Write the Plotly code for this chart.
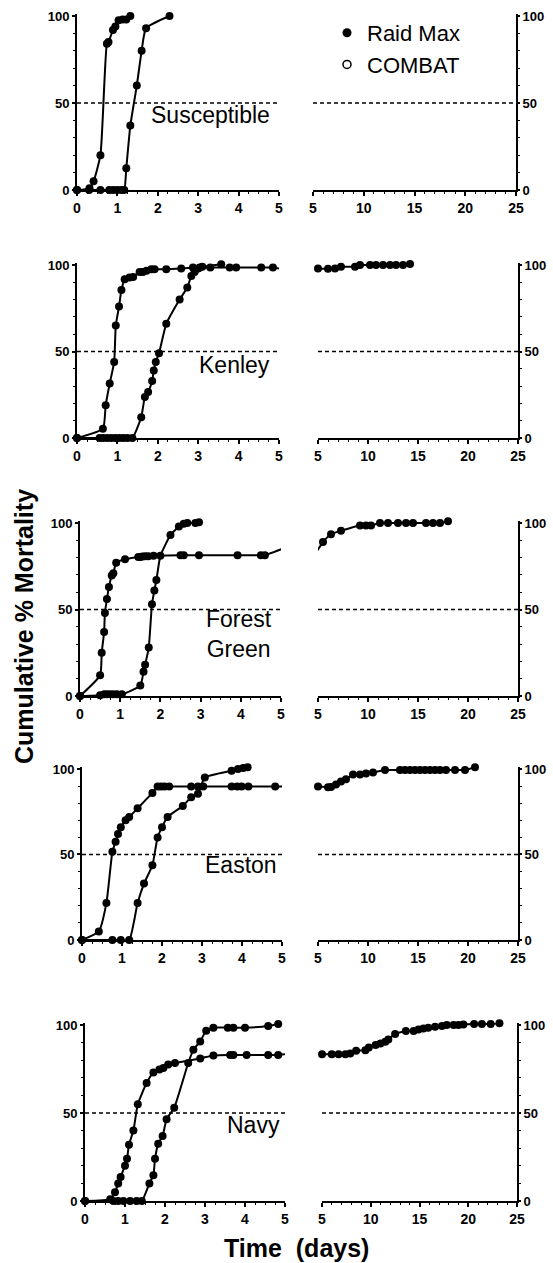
import plotly.graph_objects as go
import numpy as np

W, H = 553, 1263
FW, FH = W, H

# ---------------- data ----------------
strains = ["Susceptible", "Kenley", "Forest Green", "Easton", "Navy"]
strain_labels = ["Susceptible", "Kenley", "Forest<br>Green", "Easton", "Navy"]

susc_raid_x = [0, 0.31, 0.41, 0.58, 0.74, 0.78, 0.89, 0.95, 1.03, 1.13, 1.22, 1.32]
susc_raid_y = [0, 1, 5, 20, 84, 85, 92, 94, 97.5, 98, 98, 100]
susc_combat_x = [0, 0.3, 0.58, 0.8, 0.9, 1.0, 1.1, 1.17, 1.22, 1.32, 1.48, 1.6, 1.71, 2.29]
susc_combat_y = [0, 0, 0, 0, 0, 0, 0, 0, 12.5, 37, 60, 80, 93, 100]
susc_raid_late_x = []
susc_raid_late_y = []

kenl_raid_x = [0, 0.64, 0.71, 0.81, 0.92, 0.96, 1.04, 1.1, 1.18, 1.3, 1.39, 1.55, 1.63, 1.72,
               1.84, 1.92, 2.21, 2.58, 2.87, 3.04, 3.3, 3.78, 3.94, 4.56, 4.85]
kenl_raid_y = [0, 5.4, 19, 31.5, 44, 65, 76, 85.5, 91.7, 92.7, 93, 96, 96, 96.7,
               97.5, 97.5, 97.5, 98, 98.5, 98.5, 98.5, 98.5, 98.5, 98.5, 98.5]
kenl_combat_x = [0, 0.56, 0.65, 0.75, 0.85, 0.95, 1.05, 1.15, 1.25, 1.37, 1.59, 1.68, 1.76,
                 1.86, 1.9, 1.95, 2.03, 2.21, 2.54, 2.73, 2.83, 2.91, 3.0, 3.1, 3.57]
kenl_combat_y = [0, 0, 0, 0, 0, 0, 0, 0, 0, 0, 12, 23.7, 26.6,
                 33, 39, 44, 49, 66, 80, 87, 93.6, 96, 98, 99, 100.5]
kenl_raid_late_x = [5.0, 6.0, 6.7, 7.3, 8.7, 9.2, 10.2, 10.8, 11.5, 12.2, 12.8, 13.5, 14.2]
kenl_raid_late_y = [98, 97.8, 98, 99, 99, 100, 100, 100, 100, 100, 100, 100, 100.6]

forg_raid_x = [0, 0.5, 0.54, 0.6, 0.62, 0.67, 0.72, 0.79, 0.83, 0.9, 1.12, 1.45, 1.5, 1.55,
               1.62, 1.7, 1.83, 2.5, 2.58, 2.96, 3.92, 4.5, 4.6]
forg_raid_y = [0, 12, 25, 37, 48, 56, 63, 69.6, 71, 77, 79, 80.4, 80.4, 80.6,
               80.8, 80.8, 81, 81.4, 81.4, 81.4, 81.4, 81.4, 81.4]
forg_combat_x = [0, 0.5, 0.6, 0.67, 0.75, 0.83, 0.92, 1.04, 1.5, 1.58, 1.62, 1.71, 1.79,
                 1.85, 1.9, 2.0, 2.25, 2.46, 2.58, 2.67, 2.87, 2.96]
forg_combat_y = [0, 0.5, 1, 1, 1, 1, 1, 1, 6, 14, 18, 28, 53,
                 61, 67, 81, 93, 98, 99.5, 100, 100, 100.5]
forg_raid_late_x = [5.5, 6.3, 7.3, 9.2, 9.8, 10.3, 11.2, 12.0, 13.0, 13.8, 14.5, 15.8, 16.5, 17.2, 18.0]
forg_raid_late_y = [89, 93.5, 95.5, 98.6, 98.6, 98.6, 100, 100, 100, 100, 100, 100, 100, 100, 101]

east_raid_x = [0, 0.42, 0.61, 0.76, 0.84, 0.9, 0.97, 1.09, 1.18, 1.39, 1.76, 1.89, 1.97, 2.06,
               2.18, 2.73, 2.9, 3.03, 3.74, 3.88, 3.99, 4.16, 4.83]
east_raid_y = [0, 5, 21.6, 51.6, 57.5, 62, 66, 70, 72, 77, 86, 89.8, 89.8, 89.8,
               89.8, 89.8, 89.8, 89.8, 89.8, 89.8, 89.8, 89.8, 89.8]
east_combat_x = [0, 0.76, 0.97, 1.18, 1.39, 1.55, 1.76, 1.89, 2.0, 2.14, 2.52, 2.73, 2.9,
                 3.07, 3.74, 3.9, 4.03, 4.14]
east_combat_y = [0, 0, 0, 0, 21.6, 33, 43.7, 60, 66, 72, 78.4, 83.5, 85.5,
                 95, 99, 100, 100.6, 101]
east_raid_late_x = [5.0, 6.0, 6.3, 6.8, 7.3, 7.8, 8.5, 9.2, 9.8, 10.5, 11.7, 13.2, 13.7, 14.2,
                    14.7, 15.2, 15.7, 16.2, 16.7, 17.2, 17.8, 18.7, 19.7, 20.7]
east_raid_late_y = [89.7, 89.3, 89.5, 91, 92.7, 94, 96.8, 96.8, 97.4, 98, 99.4, 99.4, 99.4, 99.4,
                    99.4, 99.4, 99.4, 99.4, 99.4, 99.4, 99.4, 99.4, 99.4, 101]

navy_raid_x = [0, 0.63, 0.75, 0.83, 0.89, 1.0, 1.05, 1.1, 1.21, 1.32, 1.54, 1.71, 1.86, 1.96,
               2.08, 2.25, 2.88, 3.21, 3.63, 3.71, 4.04, 4.58, 4.83]
navy_raid_y = [0, 1, 5, 10, 13.7, 20, 24, 32, 40, 55, 67, 73, 74.7, 75.6,
               77.5, 78.4, 81, 82.7, 83, 83, 83, 83, 83]
navy_combat_x = [0, 0.71, 0.83, 0.96, 1.13, 1.29, 1.42, 1.61, 1.71, 1.75, 1.83, 1.94, 2.04,
                 2.23, 2.58, 2.71, 2.88, 3.03, 3.21, 3.57, 3.71, 4.0, 4.58, 4.83]
navy_combat_y = [0, 0, 0, 0, 0, 0, 0, 10, 14.6, 24, 32.5, 37, 46.5,
                 53, 78.4, 86, 90.6, 96.8, 98.5, 98.5, 98.5, 98.5, 99.4, 100.6]
navy_raid_late_x = [5.0, 6.0, 6.7, 7.4, 7.9, 8.5, 9.45, 9.8, 10.5, 11.0, 11.5, 11.8, 12.5, 13.6,
                    14.4, 14.9, 15.4, 15.9, 16.6, 17.3, 17.8, 18.5, 19.0, 19.5, 20.6, 21.4, 22.3, 23.2]
navy_raid_late_y = [83.4, 83.4, 83.4, 83.4, 83.8, 85.3, 85.7, 87.2, 88.6, 89.5, 90.5, 91.8, 94.9, 96.6,
                    96.6, 97.5, 98, 98.5, 99, 99.4, 100, 100, 100, 100.3, 100.6, 100.6, 100.6, 101]

raid_x = [susc_raid_x, kenl_raid_x, forg_raid_x, east_raid_x, navy_raid_x]
raid_y = [susc_raid_y, kenl_raid_y, forg_raid_y, east_raid_y, navy_raid_y]
combat_x = [susc_combat_x, kenl_combat_x, forg_combat_x, east_combat_x, navy_combat_x]
combat_y = [susc_combat_y, kenl_combat_y, forg_combat_y, east_combat_y, navy_combat_y]
late_x = [susc_raid_late_x, kenl_raid_late_x, forg_raid_late_x, east_raid_late_x, navy_raid_late_x]
late_y = [susc_raid_late_y, kenl_raid_late_y, forg_raid_late_y, east_raid_late_y, navy_raid_late_y]

left_ticks = [0, 1, 2, 3, 4, 5]
right_ticks = [5, 10, 15, 20, 25]
y_ticks = [0, 50, 100]
y_top = 101.2
half_line = 50
break_day = 5

# ---------------- layout geometry (screen pixels: y of 100% and 0%) ----------------
LEFT_PX = [(77, 279), (77, 279), (80, 281), (82, 282), (85, 285)]
RIGHT_PX = [(313, 516), (318, 518), (318, 518), (318, 518), (322, 517)]
ROW_PX = [(16, 190), (265, 438), (523, 696), (769, 940), (1025, 1201)]
LABEL_POS = [(3.3, 43), (3.9, 42), (3.95, 36), (3.98, 44), (4.2, 43)]

FONT = "Liberation Sans, Arial, Helvetica, sans-serif"
BLACK = "black"

def px_x(p):
    return p / FW

def px_y(p):
    return 1 - p / FH

def xd(px):
    return [px_x(px[0]), px_x(px[1])]

def yd(py):
    top, bottom = py
    top_ext = top - (bottom - top) * (y_top - 100) / 100
    return [px_y(bottom), px_y(top_ext)]

fig = go.Figure()
layout = dict(width=FW, height=FH, template="none",
              margin=dict(l=0, r=0, t=0, b=0, pad=0, autoexpand=False),
              paper_bgcolor="white", plot_bgcolor="white", showlegend=True,
              font=dict(family=FONT, color=BLACK))
shapes, annotations = [], []

xtickfont = dict(family=FONT, size=14, color=BLACK, weight="bold")
ytickfont = dict(family=FONT, size=13, color=BLACK, weight="bold")

def axname(kind, k):
    return f"{kind}axis" if k == 1 else f"{kind}axis{k}"

def ref(kind, k):
    return kind if k == 1 else f"{kind}{k}"

line_style = dict(color=BLACK, width=2, shape="spline", smoothing=0.5)
marker_style = dict(color=BLACK, size=8, symbol="circle", line=dict(width=0))

common = dict(showline=True, linewidth=2, linecolor=BLACK, showgrid=False, zeroline=False,
              automargin=False, ticks="outside", tickwidth=2, tickcolor=BLACK)

for r in range(5):
    kl, kr = 2 * r + 1, 2 * r + 2
    layout[axname("x", kl)] = dict(domain=xd(LEFT_PX[r]), range=[0, break_day], anchor=ref("y", kl),
                                   tickvals=left_ticks, ticklen=4, tickfont=xtickfont,
                                   minor=dict(dtick=0.25, ticks="outside", ticklen=2, tickwidth=1, tickcolor=BLACK),
                                   **common)
    layout[axname("y", kl)] = dict(domain=yd(ROW_PX[r]), range=[0, y_top], anchor=ref("x", kl),
                                   tickvals=y_ticks, ticklen=3, tickfont=ytickfont,
                                   minor=dict(dtick=10, ticks="outside", ticklen=2, tickwidth=1, tickcolor=BLACK),
                                   **common)
    layout[axname("x", kr)] = dict(domain=xd(RIGHT_PX[r]), range=[break_day, 25], anchor=ref("y", kr),
                                   tickvals=right_ticks, ticklen=4, tickfont=xtickfont,
                                   minor=dict(dtick=1, ticks="outside", ticklen=2, tickwidth=1, tickcolor=BLACK),
                                   **common)
    layout[axname("y", kr)] = dict(domain=yd(ROW_PX[r]), range=[0, y_top], anchor=ref("x", kr), side="right",
                                   tickvals=y_ticks, ticklen=2, tickfont=ytickfont,
                                   minor=dict(dtick=10, ticks="outside", ticklen=2, tickwidth=1, tickcolor=BLACK),
                                   **common)

    rx_all = np.array(raid_x[r] + late_x[r], dtype=float)
    ry_all = np.array(raid_y[r] + late_y[r], dtype=float)
    cx = np.array(combat_x[r], dtype=float)
    cy = np.array(combat_y[r], dtype=float)

    left_mask = rx_all < break_day
    right_mask = rx_all >= break_day

    for xs, ys, mask, name in [(rx_all, ry_all, left_mask, "Raid Max"), (cx, cy, cx < break_day, "COMBAT")]:
        fig.add_trace(go.Scatter(x=xs, y=ys, mode="lines", line=line_style, showlegend=False,
                                 xaxis=ref("x", kl), yaxis=ref("y", kl), name=name, hoverinfo="skip"))
        fig.add_trace(go.Scatter(x=xs[mask], y=ys[mask], mode="markers", marker=marker_style,
                                 showlegend=False, cliponaxis=False, name=name,
                                 xaxis=ref("x", kl), yaxis=ref("y", kl)))
    if right_mask.any():
        fig.add_trace(go.Scatter(x=rx_all, y=ry_all, mode="lines", line=line_style, showlegend=False,
                                 xaxis=ref("x", kr), yaxis=ref("y", kr), name="Raid Max", hoverinfo="skip"))
        fig.add_trace(go.Scatter(x=rx_all[right_mask], y=ry_all[right_mask], mode="markers",
                                 marker=marker_style, showlegend=False, cliponaxis=False, name="Raid Max",
                                 xaxis=ref("x", kr), yaxis=ref("y", kr)))

    for k, (a, b) in [(kl, (0, break_day)), (kr, (break_day, 25))]:
        shapes.append(dict(type="line", xref=ref("x", k), yref=ref("y", k), x0=a, x1=b,
                           y0=half_line, y1=half_line, line=dict(color=BLACK, width=1.6, dash="4px,3px")))

    lx, ly = LABEL_POS[r]
    annotations.append(dict(text=strain_labels[r], x=lx, y=ly, xref=ref("x", kl), yref=ref("y", kl),
                            showarrow=False, font=dict(family=FONT, size=23, color=BLACK),
                            xanchor="center", yanchor="middle"))

# legend entries
fig.add_trace(go.Scatter(x=[None], y=[None], mode="markers", name="Raid Max",
                         marker=dict(color=BLACK, size=9, symbol="circle"), xaxis="x2", yaxis="y2"))
fig.add_trace(go.Scatter(x=[None], y=[None], mode="markers", name="COMBAT",
                         marker=dict(color=BLACK, size=8, symbol="circle-open", line=dict(width=1.5)),
                         xaxis="x2", yaxis="y2"))

annotations.append(dict(text="<b>Cumulative % Mortality</b>", x=px_x(24), y=px_y(627), xref="paper", yref="paper",
                        textangle=-90, showarrow=False, font=dict(family=FONT, size=25, color=BLACK),
                        xanchor="center", yanchor="middle"))
annotations.append(dict(text="<b>Time  (days)</b>", x=px_x(296), y=px_y(1248), xref="paper", yref="paper",
                        showarrow=False, font=dict(family=FONT, size=25, color=BLACK),
                        xanchor="center", yanchor="middle"))

layout["shapes"] = shapes
layout["annotations"] = annotations
layout["legend"] = dict(x=px_x(327), y=px_y(12), xanchor="left", yanchor="top",
                        font=dict(family=FONT, size=22, color=BLACK), bgcolor="rgba(0,0,0,0)",
                        borderwidth=0, itemsizing="trace")
fig.update_layout(**layout)

fig.write_html("out.html", config={"displayModeBar": False},
               post_script="document.body.style.margin='0px';document.body.style.overflow='hidden';")
